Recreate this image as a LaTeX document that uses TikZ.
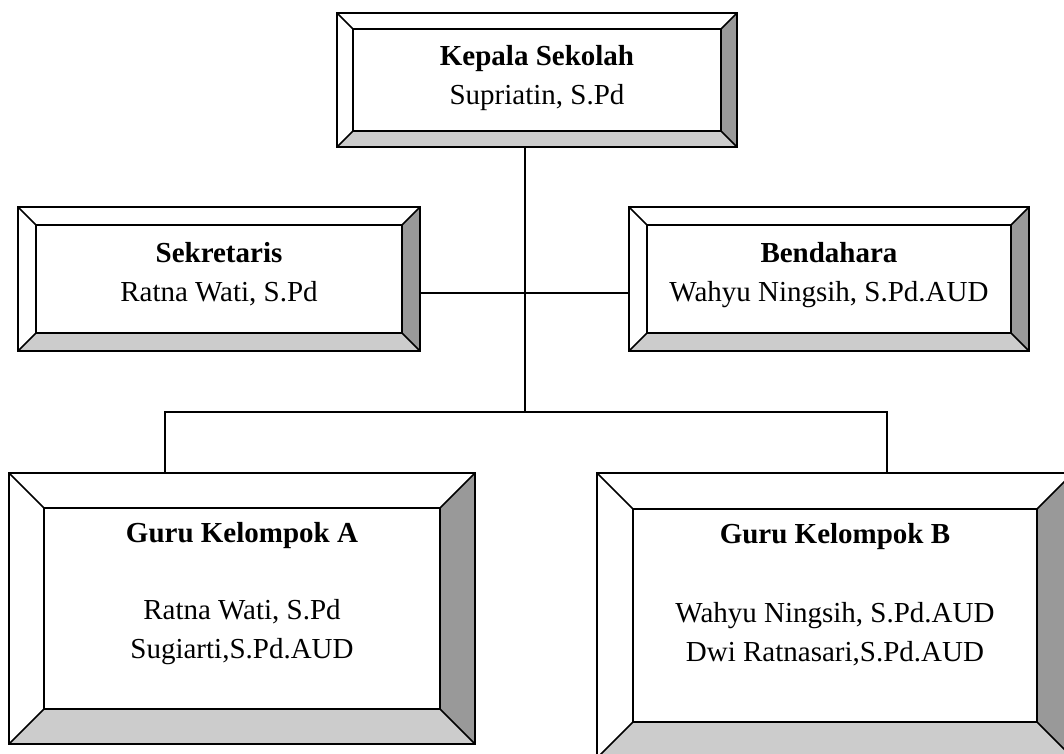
\documentclass[tikz,border=0pt]{standalone}
\usepackage{fontspec}
\setmainfont{Liberation Serif}
\usetikzlibrary{positioning,calc}

\definecolor{bevside}{RGB}{153,153,153}
\definecolor{bevbot}{RGB}{204,204,204}

% bevel frame round a box node: #1 node name, #2 bevel depth
\newcommand{\bevelframe}[2]{%
  \fill[bevside] (#1.north east) -- (#1.south east)
    -- ([shift={(-#2,#2)}]#1.south east) -- ([shift={(-#2,-#2)}]#1.north east) -- cycle;
  \fill[bevbot] (#1.south west) -- (#1.south east)
    -- ([shift={(-#2,#2)}]#1.south east) -- ([shift={(#2,#2)}]#1.south west) -- cycle;
  \draw[bline] (#1.north west) -- ([shift={(#2,-#2)}]#1.north west)
    (#1.north east) -- ([shift={(-#2,-#2)}]#1.north east)
    (#1.south west) -- ([shift={(#2,#2)}]#1.south west)
    (#1.south east) -- ([shift={(-#2,#2)}]#1.south east);
  \draw[bline] ([shift={(#2,-#2)}]#1.north west) rectangle ([shift={(-#2,#2)}]#1.south east);
  \draw[bline] (#1.north west) rectangle (#1.south east);
}

\begin{document}
\begin{tikzpicture}[
  x=1pt, y=1pt,
  bbox/.style={draw, fill=white, line width=1.6pt, inner sep=0pt, outer sep=0pt},
  bline/.style={line width=1.6pt, line join=miter},
  conn/.style={line width=1.3pt},
  txt/.style={font=\fontsize{29}{39}\selectfont, align=center, inner sep=0pt,
              anchor=north},
]
\useasboundingbox (0,0) rectangle (1064,753);
\clip (0,0) rectangle (1064,753);

%% ---- Connector levels
\def\ySB{460}  % sekretaris -- bendahara
\def\yBus{341} % bus to the teachers

\coordinate (bus)  at (525,\yBus);
\coordinate (busA) at (165,\yBus);
\coordinate (busB) at (887,\yBus);
\coordinate (sbmid) at (525,\ySB);

%% ---- Boxes
\node[bbox, minimum width=400pt, minimum height=134pt] (kepsek) at (537,673) {};
\node[bbox, minimum width=402pt, minimum height=144pt] (sekre)  at (219,474) {};
\node[bbox, minimum width=400pt, minimum height=144pt] (benda)  at (829,474) {};
\node[bbox, minimum width=466pt, minimum height=271pt] (guruA)  at (242,144.5) {};
\node[bbox, minimum width=476pt, minimum height=285pt] (guruB)  at (835,137.5) {};

%% ---- Connectors
\draw[conn] (kepsek.south -| bus) -- (bus);
\draw[conn] (sekre.east |- sbmid) -- (benda.west |- sbmid);
\draw[conn] (guruA.north -| busA) -- (busA) -- (busB) -- (guruB.north -| busB);

%% ---- Bevels
\bevelframe{kepsek}{16}
\bevelframe{sekre}{18}
\bevelframe{benda}{18}
\bevelframe{guruA}{35}
\bevelframe{guruB}{36}

%% ---- Texts
\node[txt, below=32.4pt of kepsek.north] (kepsekT)
  {\textbf{Kepala Sekolah}\\Supriatin, S.Pd};
\node[txt, below=35.4pt of sekre.north] (sekreT)
  {\textbf{Sekretaris}\\Ratna Wati, S.Pd};
\node[txt, below=35.4pt of benda.north] (bendaT)
  {\textbf{Bendahara}\\Wahyu Ningsih, S.Pd.AUD};
\node[txt, below=49.4pt of guruA.north] (guruAT)
  {\textbf{Guru Kelompok A}\\[38pt]Ratna Wati, S.Pd\\Sugiarti,S.Pd.AUD};
\node[txt, below=50.4pt of guruB.north] (guruBT)
  {\textbf{Guru Kelompok B}\\[40pt]Wahyu Ningsih, S.Pd.AUD\\Dwi Ratnasari,S.Pd.AUD};

\end{tikzpicture}
\end{document}
